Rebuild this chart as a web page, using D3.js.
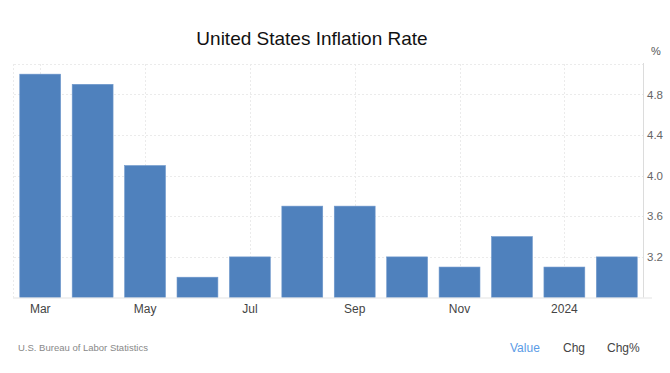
<!DOCTYPE html>
<html><head><meta charset="utf-8">
<script src="https://cdn.jsdelivr.net/npm/d3@7"></script>
<style>body{margin:0;background:#fff;} svg{display:block;font-family:"Liberation Sans",Arial,sans-serif;}</style>
</head><body>
<svg id="c" width="670" height="373"></svg>
<script>
const categories = ["Mar","Apr","May","Jun","Jul","Aug","Sep","Oct","Nov","Dec","Jan","Feb"];
const values = [5.0, 4.9, 4.1, 3.0, 3.2, 3.7, 3.7, 3.2, 3.1, 3.4, 3.1, 3.2];
const xTickLabels = {"Mar":"Mar","May":"May","Jul":"Jul","Sep":"Sep","Nov":"Nov","Jan":"2024"};
const yTicks = [3.2, 3.6, 4.0, 4.4, 4.8];
const yDomain = [2.8, 5.1];

const svg = d3.select("#c");
const L = 14, R = 643, T = 64, B = 297.5;

const x = d3.scaleBand().domain(categories).range([L, R]).paddingInner(0.22).paddingOuter(0.11);
const y = d3.scaleLinear().domain(yDomain).range([B, T]);

// horizontal grid
svg.append("g").selectAll("line").data(yTicks.concat([yDomain[1]])).join("line")
  .attr("x1", L).attr("x2", R)
  .attr("y1", d => Math.round(y(d)) + 0.5).attr("y2", d => Math.round(y(d)) + 0.5)
  .attr("stroke", "#ebebeb").attr("stroke-dasharray", "2,2");
// vertical grid
svg.append("g").selectAll("line").data(Object.keys(xTickLabels)).join("line")
  .attr("x1", d => Math.round(x(d) + x.bandwidth()/2) + 0.5)
  .attr("x2", d => Math.round(x(d) + x.bandwidth()/2) + 0.5)
  .attr("y1", T).attr("y2", B)
  .attr("stroke", "#ebebeb").attr("stroke-dasharray", "2,2");
svg.append("line").attr("x1", L - 0.5).attr("x2", L - 0.5).attr("y1", T).attr("y2", B)
  .attr("stroke", "#ebebeb").attr("stroke-dasharray", "2,2");

// bars
svg.append("g").selectAll("rect").data(values).join("rect")
  .attr("x", (d, i) => x(categories[i]))
  .attr("width", x.bandwidth())
  .attr("y", d => y(d))
  .attr("height", d => B - y(d))
  .attr("fill", "#4f81bd")
  .attr("stroke", "#6f98cc").attr("stroke-width", 0.6);

// right axis
const yAxis = d3.axisRight(y).tickValues(yTicks).tickSize(0).tickPadding(4).tickFormat(d3.format(".1f"));
const ya = svg.append("g").attr("transform", `translate(${R},0)`).call(yAxis);
ya.select(".domain").remove();
ya.selectAll("text").attr("fill", "#666").attr("font-size", "11.5px")
  .attr("font-family", "'Liberation Sans',Arial,sans-serif");
svg.append("line").attr("x1", R + 0.5).attr("x2", R + 0.5).attr("y1", T - 1).attr("y2", B)
  .attr("stroke", "#dcdcdc");
svg.append("line").attr("x1", L - 1).attr("x2", 652).attr("y1", B + 0.5).attr("y2", B + 0.5)
  .attr("stroke", "#e3e3e3");

// bottom axis
const xAxis = d3.axisBottom(x).tickValues(Object.keys(xTickLabels)).tickSize(0).tickPadding(7)
  .tickFormat(d => xTickLabels[d]);
const xa = svg.append("g").attr("transform", `translate(0,${B})`).call(xAxis);
xa.select(".domain").remove();
xa.selectAll("text").attr("fill", "#444").attr("font-size", "12px")
  .attr("font-family", "'Liberation Sans',Arial,sans-serif");

// title & labels
svg.append("text").attr("x", 312).attr("y", 45).attr("text-anchor", "middle")
  .attr("font-size", "19px").attr("fill", "#111").text("United States Inflation Rate");
svg.append("text").attr("x", 651).attr("y", 55).attr("font-size", "11px").attr("fill", "#555").text("%");
svg.append("text").attr("x", 18).attr("y", 351).attr("font-size", "9.5px").attr("fill", "#888")
  .text("U.S. Bureau of Labor Statistics");
svg.append("text").attr("x", 510).attr("y", 352).attr("font-size", "12px").attr("fill", "#5b9be6").text("Value");
svg.append("text").attr("x", 563).attr("y", 352).attr("font-size", "12px").attr("fill", "#444").text("Chg");
svg.append("text").attr("x", 607).attr("y", 352).attr("font-size", "12px").attr("fill", "#444").text("Chg%");
</script>
</body></html>
